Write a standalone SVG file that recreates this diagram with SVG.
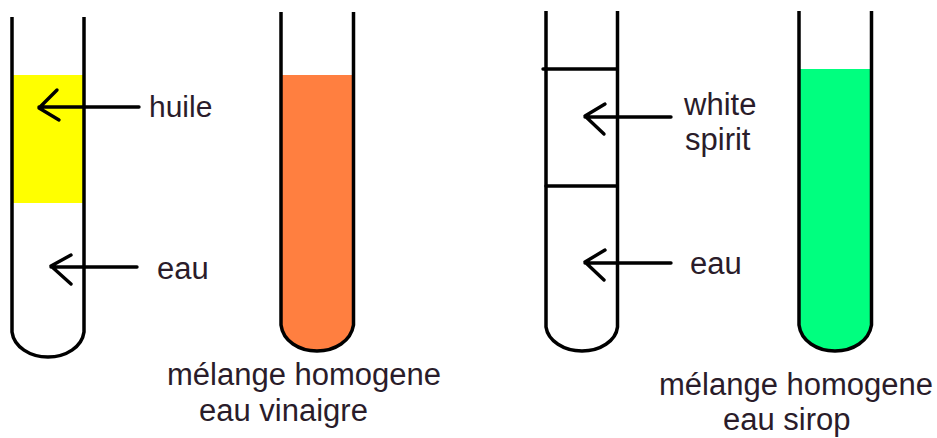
<svg xmlns="http://www.w3.org/2000/svg" width="937" height="438" viewBox="0 0 937 438">
<style>
.tube{fill:none;stroke:#000;stroke-width:3.5}
.line{fill:none;stroke:#000;stroke-width:3.4;stroke-linecap:round;stroke-linejoin:round}
text{font-family:"Liberation Sans",Arial,sans-serif;font-size:31px;fill:#2a1c2a}
</style>
<rect width="937" height="438" fill="#fff"/>
<g id="tube-huile-eau">
<rect x="13" y="75" width="70" height="128" fill="#ffff00"/>
<path class="tube" d="M12 17V332C14 347 30 357 48 357C66 357 82 347 84 332V17"/>
</g>
<g id="tube-eau-vinaigre">
<path d="M282 75H353V325C351 341 335 351 317 351C299 351 283 341 282 325Z" fill="#ff7f40"/>
<path class="tube" d="M281 12V325C283 341 299 351 317 351C335 351 351 341 353.500 325V12"/>
</g>
<g id="tube-white-spirit-eau">
<path class="tube" d="M546 11V327C548 341 564 351 582 351C600 351 616 341 617.500 327V11"/>
<path class="line" d="M543 69H617M546 186H617"/>
</g>
<g id="tube-eau-sirop">
<path d="M800 69H871V325C870 341 854 351 835 351C817 351 801 341 800 325Z" fill="#00ff7f"/>
<path class="tube" d="M799 11V325C801 341 817 351 835 351C853 351 869 341 871.500 325V11"/>
</g>
<g id="connectors">
<path class="line" d="M139 107H39M57 90L39 108L59 120"/>
<path class="line" d="M137 267H51M71 255L51 266L71 284"/>
<path class="line" d="M671 117H585M605 104L585 116L604 134"/>
<path class="line" d="M671 263H585M605 250L585 262L604 280"/>
</g>
<g id="labels">
<text x="149" y="117" style="font-size:30px">huile</text>
<text x="157" y="279">eau</text>
<text x="167" y="385">mélange homogene</text>
<text x="199" y="421">eau vinaigre</text>
<text x="684" y="115">white</text>
<text x="685" y="150">spirit</text>
<text x="690" y="274">eau</text>
<text x="659" y="395">mélange homogene</text>
<text x="723" y="430">eau sirop</text>
</g>
</svg>
